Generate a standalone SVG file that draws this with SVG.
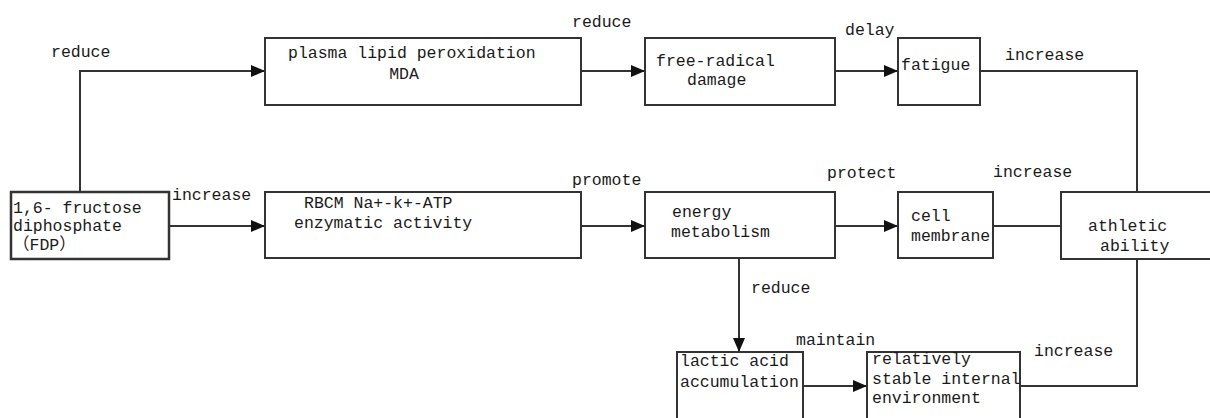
<svg xmlns="http://www.w3.org/2000/svg" width="1210" height="418" viewBox="0 0 1210 418">
<defs>
<marker id="arr" viewBox="0 0 14 12" refX="14" refY="6" markerWidth="14" markerHeight="12" markerUnits="userSpaceOnUse" orient="auto">
<path d="M0,0 L14,6 L0,12 Z" fill="#111"/>
</marker>
<style>
.box{fill:#fff;stroke:#333;stroke-width:2}
.ln{fill:none;stroke:#333;stroke-width:2}
.ar{marker-end:url(#arr)}
text{font-family:"Liberation Mono","Noto Sans CJK SC",monospace;font-size:16.5px;fill:#1a1a1a}
</style>
</defs>
<rect width="1210" height="418" fill="#fff"/>
<g id="connectors">
<polyline class="ln ar" points="80,192 80,71 265,71"/>
<line class="ln ar" x1="170" y1="226" x2="265" y2="226"/>
<line class="ln ar" x1="581" y1="71" x2="645" y2="71"/>
<line class="ln ar" x1="835" y1="71" x2="898" y2="71"/>
<polyline class="ln" points="980,71 1137,71 1137,192"/>
<line class="ln ar" x1="581" y1="226" x2="645" y2="226"/>
<line class="ln ar" x1="835" y1="226" x2="898" y2="226"/>
<line class="ln" x1="993" y1="226" x2="1061" y2="226"/>
<line class="ln ar" x1="739" y1="258" x2="739" y2="352"/>
<line class="ln ar" x1="803" y1="386" x2="867" y2="386"/>
<polyline class="ln" points="1020,386 1137,386 1137,259"/>
<text x="51" y="57">reduce</text>
<text x="172" y="200">increase</text>
<text x="572" y="27">reduce</text>
<text x="845" y="35">delay</text>
<text x="1005" y="60">increase</text>
<text x="572" y="185">promote</text>
<text x="827" y="178">protect</text>
<text x="993" y="177">increase</text>
<text x="751" y="293">reduce</text>
<text x="796" y="345">maintain</text>
<text x="1034" y="356">increase</text>
</g>
<g id="fdp">
<rect class="box" x="11" y="192" width="158" height="67" style="stroke-width:2.5"/>
<text x="13" y="213">1,6- fructose</text>
<text x="13" y="231">diphosphate</text>
<text x="13" y="250">（FDP）</text>
</g>
<g id="plasma">
<rect class="box" x="265" y="38" width="316" height="67"/>
<text x="288" y="58">plasma lipid peroxidation</text>
<text x="404" y="79" text-anchor="middle">MDA</text>
</g>
<g id="freeradical">
<rect class="box" x="645" y="38" width="190" height="67"/>
<text x="656" y="66">free-radical</text>
<text x="687" y="85">damage</text>
</g>
<g id="fatigue">
<rect class="box" x="898" y="38" width="82" height="67"/>
<text x="901" y="70">fatigue</text>
</g>
<g id="rbcm">
<rect class="box" x="265" y="192" width="316" height="66"/>
<text x="304" y="208">RBCM Na+-k+-ATP</text>
<text x="294" y="228">enzymatic activity</text>
</g>
<g id="energy">
<rect class="box" x="645" y="192" width="190" height="66"/>
<text x="672" y="217">energy</text>
<text x="671" y="237">metabolism</text>
</g>
<g id="cellmembrane">
<rect class="box" x="898" y="192" width="95" height="66"/>
<text x="911" y="221">cell</text>
<text x="911" y="241">membrane</text>
</g>
<g id="athletic">
<rect class="box" x="1061" y="192" width="160" height="67"/>
<text x="1088" y="231">athletic</text>
<text x="1100" y="251">ability</text>
</g>
<g id="lactic">
<rect class="box" x="677" y="352" width="126" height="80"/>
<text x="680" y="366">lactic acid</text>
<text x="680" y="387">accumulation</text>
</g>
<g id="stable">
<rect class="box" x="867" y="352" width="153" height="80"/>
<text x="872" y="364">relatively</text>
<text x="872" y="384">stable internal</text>
<text x="872" y="403">environment</text>
</g>
</svg>
